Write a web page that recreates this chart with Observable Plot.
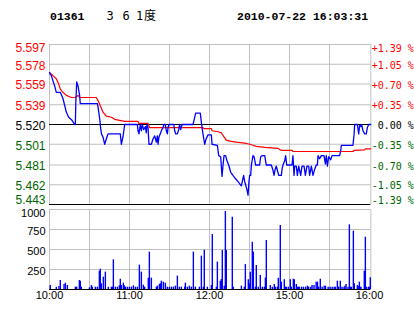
<!DOCTYPE html>
<html><head><meta charset="utf-8">
<script src="https://cdn.jsdelivr.net/npm/d3@7"></script>
<script src="https://cdn.jsdelivr.net/npm/@observablehq/plot@0.6"></script>
<style>
html,body{margin:0;padding:0;background:#fff;}
#wrap{position:relative;width:414px;height:314px;overflow:hidden;background:#fff;}
#hdr{position:absolute;left:0;top:0;}
#price{position:absolute;left:0;top:30px;}
#vol{position:absolute;left:0;top:205px;}
</style></head><body>
<div id="wrap">
  <svg id="hdr" width="414" height="30"></svg>
  <div id="price"></div>
  <div id="vol"></div>
</div>
<script>
// ---------- data ----------
const stockCode = "01361";
const stockName = ["3", "6", "1", "度"];
const stamp = "2010-07-22 16:03:31";
const prevClose = 5.520;
const priceTicks = [5.597, 5.578, 5.559, 5.539, 5.520, 5.501, 5.481, 5.462, 5.443];
const pctLabels = ["+1.39 %", "+1.05 %", "+0.70 %", "+0.35 %", "0.00 %", "-0.35 %", "-0.70 %", "-1.05 %", "-1.39 %"];
const volTicks = [1000, 750, 500, 250];
// trading minutes after 10:00 (lunch break removed)
const timeTicks = [0, 60, 120, 180, 240];
const timeLabels = ["10:00", "11:00", "12:00", "15:00", "16:00"];
const gridMinutes = [0, 30, 60, 90, 120, 150, 180, 210, 241];

const priceMin = [0,0.8,1.4,2.6,3.9,5.1,8.1,10.1,12.6,14.4,16.9,18.9,19.4,19.7,20.4,21.4,22.6,23.1,35.9,36.4,37.7,38.4,39.0,40.1,41.4,42.6,43.9,53.1,53.9,55.1,56.4,65.9,66.4,67.1,68.1,68.9,69.6,70.6,71.9,72.6,73.1,73.9,74.6,76.4,77.6,78.9,80.1,80.9,81.4,82.1,83.1,83.9,85.1,85.9,86.9,87.6,88.4,88.9,89.6,93.2,93.9,94.6,95.9,96.9,97.6,98.4,99.4,107.6,108.4,109.6,113.1,113.9,115.1,116.4,117.4,118.9,121.4,121.9,125.9,126.9,128.4,129.4,130.1,130.9,132.1,133.1,134.4,135.9,137.6,139.4,141.4,142.6,143.9,144.6,145.6,146.4,147.1,148.1,148.9,149.6,150.1,150.9,151.4,152.6,153.4,153.9,154.6,157.6,158.4,159.6,161.4,162.6,166.4,167.6,168.4,169.1,170.1,170.9,171.9,173.9,174.4,175.1,176.4,177.1,177.9,181.9,182.6,183.4,183.9,185.1,185.9,186.9,188.4,189.4,190.9,191.9,193.1,194.4,195.1,196.4,197.6,198.9,200.1,200.9,201.4,202.6,203.9,205.9,206.9,207.6,208.4,209.4,210.9,211.9,217.6,218.4,218.9,227.6,228.4,228.9,230.9,231.9,232.6,233.4,234.1,235.1,236.4,237.6,238.4,239.4,240.9];
const priceVal = [5.570,5.568,5.567,5.562,5.557,5.551,5.551,5.545,5.532,5.527,5.524,5.520,5.520,5.540,5.561,5.557,5.548,5.540,5.540,5.537,5.525,5.516,5.511,5.508,5.501,5.506,5.511,5.511,5.501,5.508,5.520,5.520,5.514,5.511,5.520,5.514,5.520,5.515,5.518,5.512,5.520,5.517,5.501,5.501,5.506,5.509,5.503,5.509,5.501,5.508,5.511,5.514,5.517,5.520,5.520,5.514,5.511,5.517,5.520,5.520,5.514,5.511,5.511,5.515,5.520,5.515,5.520,5.520,5.524,5.531,5.531,5.522,5.511,5.501,5.506,5.510,5.510,5.501,5.500,5.490,5.489,5.470,5.480,5.490,5.490,5.485,5.481,5.474,5.471,5.468,5.465,5.463,5.461,5.465,5.471,5.465,5.462,5.457,5.452,5.465,5.471,5.471,5.481,5.490,5.489,5.486,5.481,5.481,5.489,5.490,5.490,5.481,5.481,5.476,5.471,5.476,5.480,5.476,5.471,5.471,5.477,5.481,5.485,5.490,5.481,5.481,5.490,5.471,5.480,5.480,5.471,5.480,5.471,5.480,5.480,5.471,5.480,5.480,5.471,5.480,5.471,5.477,5.481,5.481,5.490,5.487,5.490,5.490,5.482,5.490,5.480,5.489,5.486,5.490,5.490,5.495,5.500,5.500,5.510,5.520,5.520,5.511,5.519,5.518,5.520,5.514,5.511,5.511,5.517,5.520,5.520];

const avgMin = [0,2.6,5.1,6.9,8.1,10.1,12.6,16.4,19.1,21.4,22.6,35.1,36.4,38.4,40.1,42.6,46.4,48.9,52.6,56.4,66.4,67.1,73.9,75.1,115.1,115.9,121.4,121.9,126.4,128.9,130.9,132.6,135.2,140.1,146.4,150.2,152.6,155.1,161.4,171.4,173.9,181.9,182.6,227.6,228.4,236.4,236.9,240.9];
const avgVal = [5.570,5.567,5.564,5.559,5.554,5.551,5.548,5.546,5.546,5.548,5.546,5.546,5.543,5.537,5.532,5.528,5.527,5.525,5.524,5.523,5.523,5.521,5.521,5.517,5.517,5.516,5.516,5.514,5.513,5.512,5.508,5.505,5.504,5.503,5.502,5.501,5.500,5.499,5.498,5.497,5.495,5.495,5.494,5.494,5.495,5.4955,5.4965,5.4965];

const volMin = [0.6,5.1,7.1,8.1,10.9,11.9,13.4,19.4,20.4,22.4,23.1,23.9,29.9,31.4,32.1,34.4,35.9,37.4,38.1,38.9,40.4,41.9,44.1,46.4,47.4,47.9,49.4,50.9,52.4,53.1,53.9,55.4,56.1,56.9,58.4,59.9,61.4,62.9,64.4,65.9,67.4,68.9,70.4,71.4,74.1,74.9,76.4,80.1,80.9,82.4,83.1,83.9,85.4,86.9,88.4,89.9,91.4,92.9,94.4,95.9,97.4,98.9,101.4,101.9,103.4,104.9,106.4,107.9,109.4,112.4,113.9,115.4,116.1,118.4,121.4,122.1,125.1,125.9,128.1,128.9,129.6,131.1,131.9,132.6,137.1,137.9,143.9,146.1,146.9,149.1,149.9,150.6,152.1,152.9,154.4,155.1,156.6,158.1,159.6,161.1,161.9,162.6,165.6,167.1,168.6,169.4,170.9,171.6,173.1,173.9,176.1,176.9,177.6,179.1,180.6,181.4,182.9,183.6,185.1,185.9,186.6,187.4,189.0,190.4,192.0,193.4,194.4,196.0,196.9,198.4,200.0,201.0,201.9,203.1,204.5,206.0,207.0,209.0,210.5,212.0,213.5,214.4,215.9,216.9,218.1,219.4,220.9,221.6,222.4,223.9,224.9,225.6,226.4,227.9,228.6,230.9,231.6,232.4,233.0,233.6,236.1,236.9,237.6,239.1,239.9,240.6];
const volVal = [50,29,37,112,62,79,50,29,29,112,104,29,21,50,29,29,29,229,254,71,154,217,29,29,29,371,29,29,46,129,50,79,46,29,29,29,29,46,29,29,304,217,54,29,142,467,142,29,42,62,71,104,92,79,29,29,29,29,42,167,29,29,29,79,29,42,29,467,29,29,417,29,492,29,50,687,29,342,104,125,487,42,975,487,904,29,42,29,312,121,71,217,592,467,29,300,29,175,29,29,142,612,50,29,62,29,29,142,800,92,121,29,29,29,121,29,129,121,62,29,29,29,29,29,29,42,29,29,50,50,92,92,29,129,29,42,42,29,29,29,29,29,104,29,104,29,29,42,62,29,808,29,29,729,71,50,37,92,29,29,229,654,29,29,29,146];

// ---------- build tables ----------
const blue = priceMin.map((m, i) => ({m, p: priceVal[i]}));
const avg = avgMin.map((m, i) => ({m, p: avgVal[i]}));
const vols = volMin.map((m, i) => ({m, v: volVal[i]}));
const colorOf = v => v > prevClose + 1e-9 ? "#ff0000" : v < prevClose - 1e-9 ? "#006600" : "#000000";
const rows = priceTicks.map((v, i) => ({v, pct: pctLabels[i], c: colorOf(v), i}));
const last = rows.length - 1;

// ---------- header ----------
const hdr = d3.select("#hdr");
hdr.append("text").attr("x", 50).attr("y", 20)
  .attr("font-family", "Liberation Mono, DejaVu Sans Mono, monospace").attr("font-weight", "bold").attr("font-size", 11.5)
  .text(stockCode);
const nameX = [106.5, 122.5, 136, 144];
stockName.forEach((ch, i) => {
  hdr.append("text").attr("x", nameX[i]).attr("y", 20)
    .attr("font-family", i === 3 ? "Noto Sans CJK SC" : "DejaVu Sans Mono, monospace")
    .attr("font-size", 12).text(ch);
});
hdr.append("text").attr("x", 237).attr("y", 20)
  .attr("font-family", "Liberation Mono, DejaVu Sans Mono, monospace").attr("font-weight", "bold").attr("font-size", 11.5)
  .text(stamp);

// ---------- price panel ----------
const leftFont = "Liberation Sans, Arial, sans-serif";
const monoFont = "DejaVu Sans Mono, monospace";
const priceText = (sel, dy) => [
  Plot.text(sel, {y: "v", text: d => d.v.toFixed(3), fill: "c", frameAnchor: "left", textAnchor: "end", dx: -4, dy, fontFamily: leftFont, fontSize: 12}),
  Plot.text(sel, {y: "v", text: "pct", fill: "c", frameAnchor: "right", textAnchor: "end", dx: 43, dy, fontFamily: monoFont, fontSize: 10})
];
const price = Plot.plot({
  width: 414, height: 175,
  marginTop: 14, marginBottom: 1, marginLeft: 49, marginRight: 43.67,
  x: {domain: [0, 241], axis: null},
  y: {domain: [5.443, 5.597], axis: null},
  color: {type: "identity"},
  style: {background: "transparent", overflow: "visible"},
  marks: [
    Plot.ruleY(priceTicks, {stroke: "#c0c0c0"}),
    Plot.ruleX(gridMinutes, {stroke: "#c0c0c0"}),
    Plot.ruleY([prevClose, priceTicks[last]], {stroke: "#000000"}),
    Plot.line(avg, {x: "m", y: "p", stroke: "#ff0000", strokeWidth: 1.2}),
    Plot.line(blue, {x: "m", y: "p", stroke: "#0000ff", strokeWidth: 1.3}),
    ...priceText(rows.filter(d => d.i === 0), 4),
    ...priceText(rows.filter(d => d.i > 0 && d.i < last), 1.5),
    ...priceText(rows.filter(d => d.i === last), -4)
  ]
});
document.getElementById("price").appendChild(price);

// ---------- volume panel ----------
const vol = Plot.plot({
  width: 414, height: 109,
  marginTop: 4, marginBottom: 25, marginLeft: 49, marginRight: 43.67,
  x: {domain: [0, 241], axis: null},
  y: {domain: [0, 1000], axis: null},
  style: {background: "transparent", overflow: "visible"},
  marks: [
    Plot.ruleY(volTicks, {stroke: "#c0c0c0"}),
    Plot.ruleX(gridMinutes, {stroke: "#c0c0c0"}),
    Plot.ruleX(vols, {x: "m", y1: 0, y2: "v", stroke: "#0000ff", strokeWidth: 1.4}),
    Plot.ruleY([0], {stroke: "#000000"}),
    Plot.text(volTicks.filter(v => v === 1000), {y: d => d, text: d => String(d), frameAnchor: "left", textAnchor: "end", dx: -4, dy: 4, fontFamily: leftFont, fontSize: 11, fill: "#000"}),
    Plot.text(volTicks.filter(v => v !== 1000), {y: d => d, text: d => String(d), frameAnchor: "left", textAnchor: "end", dx: -4, dy: 1.5, fontFamily: leftFont, fontSize: 11, fill: "#000"}),
    Plot.text(timeTicks, {x: d => d, text: (d, i) => timeLabels[i], frameAnchor: "bottom", dy: 9.5, fontFamily: leftFont, fontSize: 11, fill: "#000"})
  ]
});
document.getElementById("vol").appendChild(vol);
</script>
</body></html>
